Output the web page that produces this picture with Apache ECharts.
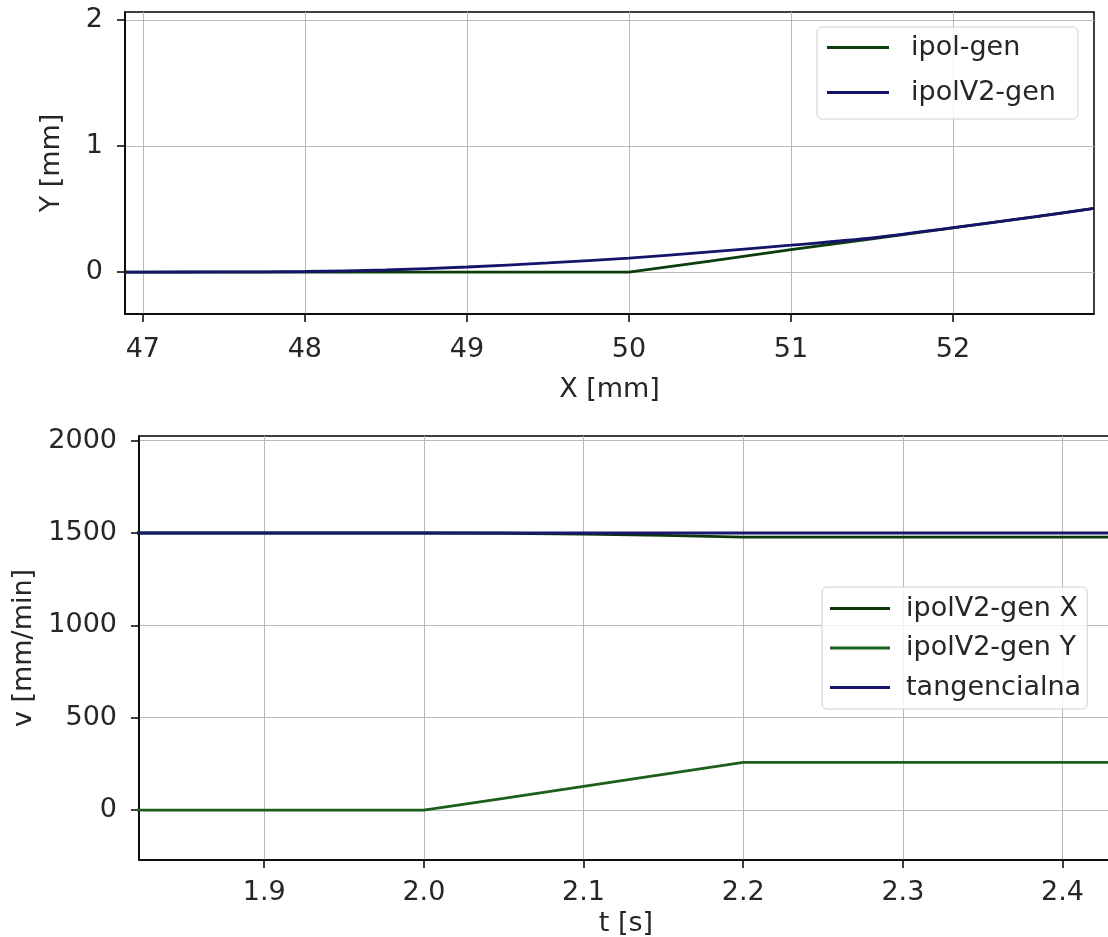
<!DOCTYPE html>
<html>
<head>
<meta charset="utf-8">
<script src="https://cdn.jsdelivr.net/npm/echarts@6/dist/echarts.min.js"></script>
<style>html,body{margin:0;padding:0;background:#fff}#c{width:1108px;height:937px}</style>
</head>
<body>
<div id="c"></div>
<script>
// ---- top chart data (X [mm] vs Y [mm]) ----
const topX      = [46.89, 47, 47.5, 48, 48.5, 49, 49.5, 50, 50.5, 51, 51.5, 52, 52.5, 52.87];
const ipolGen   = [0, 0, 0, 0, 0, 0, 0, 0, 0.087, 0.178, 0.264, 0.35, 0.437, 0.505];
const ipolV2Gen = [0, 0, 0.001, 0.004, 0.016, 0.04, 0.072, 0.11, 0.16, 0.213, 0.27, 0.352, 0.437, 0.505];
const topXTicks = [47, 48, 49, 50, 51, 52];
const topYTicks = [0, 1, 2];

// ---- bottom chart data (t [s] vs v [mm/min]) ----
const tVals  = [1.82, 1.9, 2.0, 2.05, 2.1, 2.15, 2.2, 2.3, 2.4, 2.44];
const vX     = [1500, 1500, 1500, 1498.6, 1494.5, 1487.5, 1477.8, 1477.8, 1477.8, 1477.8];
const vY     = [0, 0, 0, 64, 129, 193, 258, 258, 258, 258];
const vTang  = [1500, 1500, 1500, 1500, 1500, 1500, 1500, 1500, 1500, 1500];
const botXTicks = [1.9, 2.0, 2.1, 2.2, 2.3, 2.4];
const botYTicks = [0, 500, 1000, 1500, 2000];

const pairs = (xs, ys) => xs.map((x, i) => [x, ys[i]]);
const FONT = 'DejaVu Sans';
const FS = 27;
const TXT = '#262626';

function xAx(gi, min, max, ticks, name, nameGap, margin, fmt) {
  return {
    type: 'value', gridIndex: gi, min: min, max: max,
    name: name, nameLocation: 'middle', nameGap: nameGap,
    nameTextStyle: {fontFamily: FONT, fontSize: FS, color: TXT},
    axisLine: {show: true, onZero: false, lineStyle: {color: '#000', width: 1.5}},
    axisTick: {show: true, length: 8, customValues: ticks, lineStyle: {color: '#000', width: 1.5}},
    axisLabel: {customValues: ticks, margin: margin, fontFamily: FONT, fontSize: FS, color: TXT, formatter: fmt},
    splitLine: {show: true, lineStyle: {color: '#b8b8b8', width: 1}}
  };
}
function yAx(gi, min, max, ticks, name, nameGap, margin) {
  return {
    type: 'value', gridIndex: gi, min: min, max: max,
    name: name, nameLocation: 'middle', nameGap: nameGap, nameRotate: 90,
    nameTextStyle: {fontFamily: FONT, fontSize: FS, color: TXT},
    axisLine: {show: true, onZero: false, lineStyle: {color: '#000', width: 1.5}},
    axisTick: {show: true, length: 8, customValues: ticks, lineStyle: {color: '#000', width: 1.5}},
    axisLabel: {customValues: ticks, margin: margin, fontFamily: FONT, fontSize: FS, color: TXT, formatter: v => String(v)},
    splitLine: {show: true, lineStyle: {color: '#b8b8b8', width: 1}}
  };
}
function ln(name, xi, yi, data, color) {
  return {
    name: name, type: 'line', xAxisIndex: xi, yAxisIndex: yi, data: data,
    showSymbol: false, symbol: 'none', smooth: false, clip: true,
    lineStyle: {color: color, width: 2.8}, itemStyle: {color: color}, animation: false
  };
}

const C_IPOL = '#0c3d0c', C_V2 = '#14146a', C_X = '#0b380b', C_Y = '#1c5f1c', C_T = '#17176b';

const option = {
  animation: false,
  backgroundColor: '#fff',
  grid: [
    {left: 125, top: 12, right: 14, height: 302, show: true, borderColor: '#000', borderWidth: 1.5,
     backgroundColor: 'transparent', outerBoundsMode: 'none', containLabel: false},
    {left: 139, top: 436, right: -5, height: 424, show: true, borderColor: '#000', borderWidth: 1.5,
     backgroundColor: 'transparent', outerBoundsMode: 'none', containLabel: false}
  ],
  xAxis: [
    xAx(0, 46.89, 52.87, topXTicks, 'X [mm]', 62, 22, v => String(Math.round(v))),
    xAx(1, 1.8216, 2.4316, botXTicks, 't [s]', 50, 19, v => v.toFixed(1))
  ],
  yAxis: [
    yAx(0, -0.333, 2.063, topYTicks, 'Y [mm]', 60, 22),
    yAx(1, -270, 2025, botYTicks, 'v [mm/min]', 90, 22)
  ],
  legend: [
    {
      data: ['ipol-gen', 'ipolV2-gen'],
      left: 817, top: 27, orient: 'vertical',
      icon: 'rect', itemWidth: 62, itemHeight: 3, itemGap: 18,
      padding: [7, 22, 13, 10],
      backgroundColor: 'rgba(255,255,255,0.8)', borderColor: '#d0d0d0', borderWidth: 1, borderRadius: 5,
      textStyle: {fontFamily: FONT, fontSize: FS, color: TXT, padding: [0, 0, 0, 17]}
    },
    {
      data: ['ipolV2-gen X', 'ipolV2-gen Y', 'tangencialna'],
      left: 822, top: 587, orient: 'vertical',
      icon: 'rect', itemWidth: 60, itemHeight: 3, itemGap: 12.5,
      padding: [8, 6, 8, 8],
      backgroundColor: 'rgba(255,255,255,0.8)', borderColor: '#d0d0d0', borderWidth: 1, borderRadius: 5,
      textStyle: {fontFamily: FONT, fontSize: FS, color: TXT, padding: [0, 0, 0, 11]}
    }
  ],
  series: [
    ln('ipol-gen', 0, 0, pairs(topX, ipolGen), C_IPOL),
    Object.assign(ln('ipolV2-gen', 0, 0, pairs(topX, ipolV2Gen), C_V2), {smooth: 0.3}),
    ln('ipolV2-gen X', 1, 1, pairs(tVals, vX), C_X),
    ln('ipolV2-gen Y', 1, 1, pairs(tVals, vY), C_Y),
    ln('tangencialna', 1, 1, pairs(tVals, vTang), C_T)
  ]
};

const chart = echarts.init(document.getElementById('c'), null, {renderer: 'canvas'});
chart.setOption(option);
</script>
</body>
</html>
